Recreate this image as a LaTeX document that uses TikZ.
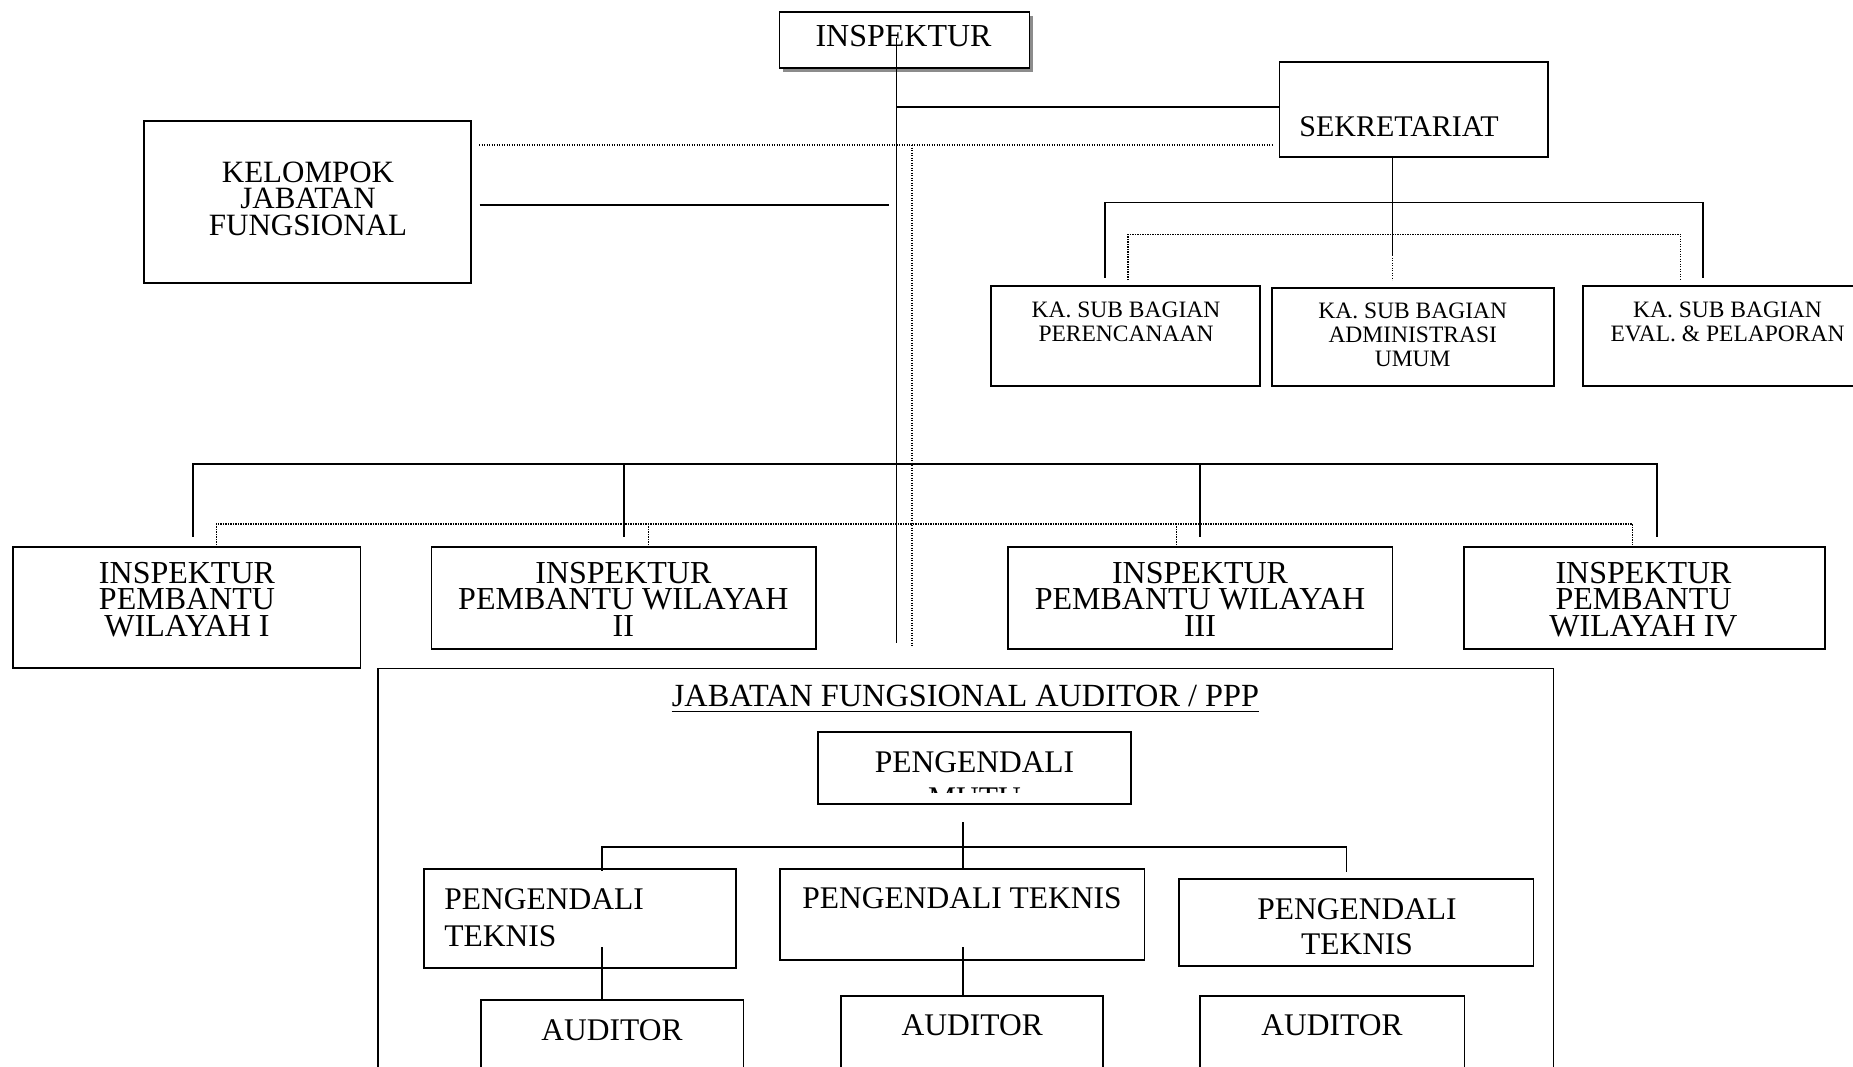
\documentclass[tikz,border=0pt]{standalone}
\usepackage{fontspec}
\setmainfont{Liberation Serif}
\usetikzlibrary{shadows}

\tikzset{
  kotak/.style={draw, line width=1.8pt, fill=white, inner sep=0pt},
  garis/.style={line width=1.8pt},
  titik/.style={line width=1.2pt, dash pattern=on 1.2pt off 1.3pt},
  teks/.style={inner sep=0pt, align=center},
}
\newcommand{\hurufbesar}{\fontsize{32}{26.5}\selectfont}
\newcommand{\hurufkecil}{\fontsize{23.5}{23.7}\selectfont}
\newcommand{\hurufpt}{\fontsize{31.5}{36.5}\selectfont}

\begin{document}
\begin{tikzpicture}[x=1pt, y=-1pt]
    \useasboundingbox (0,0) rectangle (1853,1066);
    \clip (0,0) rectangle (1853,1066);

        % Inspektur dan sekretariat
        \node[kotak, minimum width=250, minimum height=56.6,
              drop shadow={shadow xshift=4pt, shadow yshift=-4pt, fill=gray!90, opacity=1}] (insp) at (904.4,40) {};
        \node[teks, anchor=base, font=\fontsize{32}{36}\selectfont] (inspT) at (903.5,46.7) {INSPEKTUR};
        \node[kotak, minimum width=268.9, minimum height=95] (sek) at (1413.9,109.8) {};
        \node[teks, anchor=base, font=\fontsize{30}{36}\selectfont] (sekT) at (1399,136.7) {SEKRETARIAT};

        % Kelompok jabatan fungsional
        \node[kotak, minimum width=327, minimum height=162] (kjf) at (307.3,201.7) {};
        \node[teks, anchor=north, font=\fontsize{31}{26.3}\selectfont] (kjfT) at (308,161.7) {KELOMPOK\\JABATAN\\FUNGSIONAL};

        % Sub bagian
        \node[kotak, minimum width=268.8, minimum height=99.7] (per) at (1125.7,335.9) {};
        \node[teks, anchor=north, font=\hurufkecil] (perT) at (1126,301.7) {KA. SUB BAGIAN\\PERENCANAAN};
        \node[kotak, minimum width=282, minimum height=97.4] (adm) at (1413,337) {};
        \node[teks, anchor=north, font=\fontsize{23.5}{24.2}\selectfont] (admT) at (1412.7,302.5) {KA. SUB BAGIAN\\ADMINISTRASI\\UMUM};
        \node[kotak, minimum width=296.7, minimum height=99.7] (evl) at (1731.7,335.9) {};
        \node[teks, anchor=north, font=\hurufkecil] (evlT) at (1727.5,301.7) {KA. SUB BAGIAN\\EVAL. \& PELAPORAN};

        % Inspektur pembantu wilayah
        \node[kotak, minimum width=347.2, minimum height=121] (w1) at (186.9,607.8) {};
        \node[teks, anchor=north, font=\hurufbesar] (w1T) at (187,561.7) {INSPEKTUR\\PEMBANTU\\WILAYAH I};
        \node[kotak, minimum width=384.7, minimum height=102] (w2) at (623.8,598.3) {};
        \node[teks, anchor=north, font=\hurufbesar] (w2T) at (623.4,561.7) {INSPEKTUR\\PEMBANTU WILAYAH\\II};
        \node[kotak, minimum width=384.2, minimum height=102] (w3) at (1200.3,598.3) {};
        \node[teks, anchor=north, font=\hurufbesar] (w3T) at (1200,561.7) {INSPEKTUR\\PEMBANTU WILAYAH\\III};
        \node[kotak, minimum width=361, minimum height=102] (w4) at (1644.5,598.3) {};
        \node[teks, anchor=north, font=\hurufbesar] (w4T) at (1643.5,561.7) {INSPEKTUR\\PEMBANTU\\WILAYAH IV};

        % Jabatan fungsional auditor
        \node[kotak, line width=1.5pt, minimum width=1175.3, minimum height=421.7] (jfa) at (965.7,879.2) {};
        \node[teks, anchor=base, font=\fontsize{32.3}{36}\selectfont] (ttl) at (965.5,706.7) {JABATAN FUNGSIONAL AUDITOR / PPP};
        \draw[line width=1.5pt] ([yshift=-5pt]ttl.base west) -- ([yshift=-5pt]ttl.base east);

        \node[kotak, minimum width=313.3, minimum height=72] (mutu) at (974.4,768.3) {};
        \coordinate (mutuClip) at (1131,792);
        \begin{scope}
          \clip (mutu.north west) rectangle (mutuClip);
          \node[teks, anchor=north, font=\fontsize{31.5}{36}\selectfont] (mutuT) at (974.5,751.7) {PENGENDALI\\MUTU};
        \end{scope}

        \node[kotak, minimum width=312.2, minimum height=99.3] (pt1) at (579.7,918.7) {};
        \node[teks, anchor=north west, align=left, font=\fontsize{31.5}{36.7}\selectfont] (pt1T) at (444.2,888.3) {PENGENDALI\\TEKNIS};
        \node[kotak, minimum width=364.3, minimum height=91] (pt2) at (962.4,914.5) {};
        \node[teks, anchor=base, font=\hurufpt] (pt2T) at (962,908.3) {PENGENDALI TEKNIS};
        \node[kotak, minimum width=354.6, minimum height=87.3] (pt3) at (1356.2,922.4) {};
        \node[teks, anchor=north, font=\fontsize{31.5}{35}\selectfont] (pt3T) at (1357,898) {PENGENDALI\\TEKNIS};

        \node[kotak, minimum width=262.5, minimum height=90] (au1) at (612.3,1045) {};
        \node[teks, anchor=base, font=\hurufpt] (au1T) at (612,1040) {AUDITOR};
        \node[kotak, minimum width=262.5, minimum height=94] (au2) at (972,1043) {};
        \node[teks, anchor=base, font=\hurufpt] (au2T) at (972.3,1035) {AUDITOR};
        \node[kotak, minimum width=264.1, minimum height=94] (au3) at (1332.4,1043) {};
        \node[teks, anchor=base, font=\hurufpt] (au3T) at (1332,1035) {AUDITOR};

        % Garis komando
        \coordinate (trunkTop) at (896.5,38.3);
        \coordinate (trunkBot) at (896.5,643);
        \coordinate (sekJ) at (896.5,106.7);
        \draw[garis] (trunkTop) -- (trunkBot);
        \draw[garis] (sekJ) -- (sekJ -| sek.west);

        \coordinate (kjfL) at (479.5,205);
        \coordinate (kjfR) at (889,205);
        \draw[garis] (kjfL) -- (kjfR);

        \coordinate (sekBot) at (1392.5,255);
        \coordinate (subL) at (1105,277.7);
        \coordinate (subM) at (1392.5,202.5);
        \coordinate (subR) at (1703,277.7);
        \draw[garis] (sek.south -| sekBot) -- (sekBot);
        \draw[garis] (subL) |- (subM) -| (subR);

        \coordinate (wb1) at (192.7,536.7);
        \coordinate (wb2) at (624,536.7);
        \coordinate (wb3) at (1199.7,536.7);
        \coordinate (wb4) at (1656.7,536.7);
        \coordinate (wbar) at (896.5,464);
        \draw[garis] (wb1) |- (wbar) -| (wb4);
        \draw[garis] (wb2) -- (wb2 |- wbar);
        \draw[garis] (wb3) -- (wb3 |- wbar);

        % Garis koordinasi
        \coordinate (dotL) at (479,145);
        \coordinate (dotR) at (1273,145);
        \coordinate (dotTop) at (912,145);
        \coordinate (dotBot) at (912,646);
        \draw[titik] (dotL) -- (dotR);
        \draw[titik] (dotTop) -- (dotBot);

        \coordinate (dsubL) at (1128,280);
        \coordinate (dsubM) at (1392.5,234.3);
        \coordinate (dsubR) at (1680.5,280);
        \draw[titik] (dsubL) |- (dsubM) -| (dsubR);
        \draw[titik] (sekBot) -- (sekBot |- dsubL);

        \coordinate (dw1) at (216.3,545);
        \coordinate (dw2) at (648.3,545);
        \coordinate (dw3) at (1176.6,545);
        \coordinate (dw4) at (1632.5,545);
        \coordinate (dwbar) at (912,524);
        \draw[titik] (dw1) |- (dwbar) -| (dw4);
        \draw[titik] (dw2) -- (dw2 |- dwbar);
        \draw[titik] (dw3) -- (dw3 |- dwbar);

        % Auditor
        \coordinate (mutuLine) at (963,822.3);
        \coordinate (ptL) at (602,870.7);
        \coordinate (ptM) at (963,846.7);
        \coordinate (ptR) at (1346.5,871.7);
        \draw[garis] (mutuLine) -- (mutuLine |- pt2.north);
        \draw[garis] (ptL) |- (ptM) -| (ptR);

        \coordinate (pt1aud) at (602,947.3);
        \coordinate (pt2aud) at (963,947.3);
        \draw[garis] (pt1aud) -- (pt1aud |- au1.north);
        \draw[garis] (pt2aud) -- (pt2aud |- au2.north);

\end{tikzpicture}
\end{document}
